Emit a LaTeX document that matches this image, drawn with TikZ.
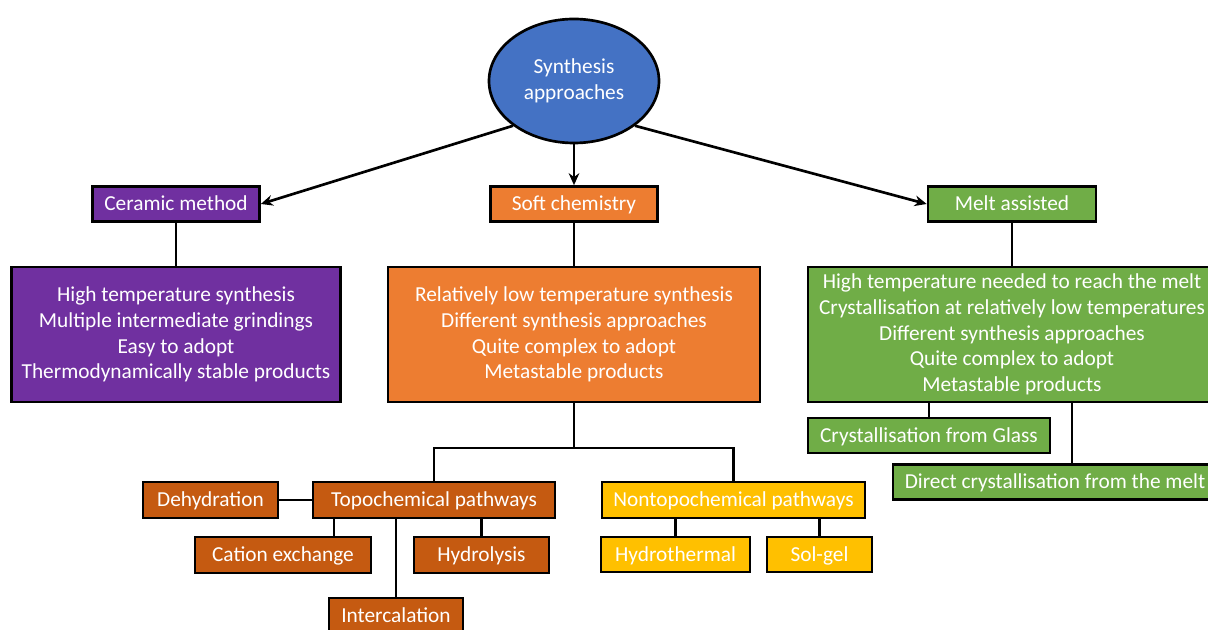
\documentclass[tikz,border=0pt]{standalone}
\usepackage{fontspec}
\setmainfont{Carlito}
\usetikzlibrary{arrows.meta, shapes.geometric}

\definecolor{rootblue}{HTML}{4472C4}
\definecolor{ceramicpurple}{HTML}{7030A0}
\definecolor{softorange}{HTML}{ED7D31}
\definecolor{meltgreen}{HTML}{70AD47}
\definecolor{topobrown}{HTML}{C55A11}
\definecolor{nontopogold}{HTML}{FFC000}

\begin{document}
\begin{tikzpicture}[x=0.75pt, y=-0.75pt,
  textbox/.style={draw=black, line width=2pt, rectangle, inner sep=0pt, text=white,
    align=center, font=\fontsize{16}{19.3}\selectfont},
  box/.style={textbox, minimum height=26.25pt, text height=12pt, text depth=2pt},
  infobox/.style={textbox, minimum height=101.25pt},
  link/.style={line width=2pt},
  arrow/.style={line width=2pt, -{Stealth[length=9pt, width=8pt]}}]
\useasboundingbox (0,0) rectangle (1208,630);

\node [ellipse, draw=black, line width=2pt, fill=rootblue, text=white, align=center,
  inner sep=0pt, minimum width=127.5pt, minimum height=93pt,
  font=\fontsize{16}{19.5}\selectfont] (root) at (574,81) {Synthesis\\approaches};

\node [box, fill=ceramicpurple, minimum width=125.25pt] (ceramic) at (176,204) {Ceramic method};
\node [box, fill=softorange, minimum width=125.25pt] (soft) at (574,204) {Soft chemistry};
\node [box, fill=meltgreen, minimum width=126pt] (melt) at (1012,204) {Melt assisted};

\node [infobox, fill=ceramicpurple, minimum width=246.75pt] (ceramicinfo) at (176,334.5)
  {High temperature synthesis\\Multiple intermediate grindings\\Easy to adopt\\Thermodynamically stable products};
\node [infobox, fill=softorange, minimum width=279pt] (softinfo) at (574,334.5)
  {Relatively low temperature synthesis\\Different synthesis approaches\\Quite complex to adopt\\Metastable products};
\node [infobox, fill=meltgreen, minimum width=306pt] (meltinfo) at (1012,334.5)
  {High temperature needed to reach the melt\\Crystallisation at relatively low temperatures\\Different synthesis approaches\\Quite complex to adopt\\Metastable products};

\node [box, fill=meltgreen, minimum width=181.5pt] (glass) at (929,435.5) {Crystallisation from Glass};
\node [box, fill=meltgreen, minimum width=243pt] (direct) at (1055,482) {Direct crystallisation from the melt};

\coordinate (split) at (574,448);
\node [box, fill=topobrown, minimum width=181.5pt, minimum height=27pt] (topo) at (434,500) {Topochemical pathways};
\node [box, fill=nontopogold, minimum width=197.25pt, minimum height=27pt] (nontopo) at (733.5,500) {Nontopochemical pathways};

\node [box, fill=topobrown, minimum width=101.25pt, minimum height=27pt] (dehyd) at (210.5,500) {Dehydration};
\node [box, fill=topobrown, minimum width=132pt, minimum height=27pt] (cation) at (283,555) {Cation exchange};
\node [box, fill=topobrown, minimum width=101.25pt, minimum height=27pt] (hydrol) at (481.5,555) {Hydrolysis};
\node [box, fill=topobrown, minimum width=100.5pt, minimum height=27pt] (interc) at (396,616) {Intercalation};

\node [box, fill=nontopogold, minimum width=111.75pt] (hydroth) at (675.5,554.5) {Hydrothermal};
\node [box, fill=nontopogold, minimum width=78.75pt] (solgel) at (819.5,554.5) {Sol-gel};

\draw [arrow] (root.south west) -- (ceramic.east);
\draw [arrow] (root.south) -- (soft.north);
\draw [arrow] (root.south east) -- (melt.west);

\draw [link] (ceramic) -- (ceramicinfo);
\draw [link] (soft) -- (softinfo);
\draw [link] (melt) -- (meltinfo);

\draw [link] (meltinfo.south -| glass.north) -- (glass);
\draw [link] (meltinfo.south -| 1072,0) -- (direct.north -| 1072,0);

\draw [link] (softinfo) -- (split);
\draw [link] (topo) |- (split) -| (nontopo);

\draw [link] (dehyd) -- (topo);
\draw [link] (topo.south -| 334,0) -- (cation.north -| 334,0);
\draw [link] (topo.south -| interc.north) -- (interc);
\draw [link] (topo.south -| hydrol.north) -- (hydrol);

\draw [link] (nontopo.south -| hydroth.north) -- (hydroth);
\draw [link] (nontopo.south -| solgel.north) -- (solgel);
\end{tikzpicture}
\end{document}
